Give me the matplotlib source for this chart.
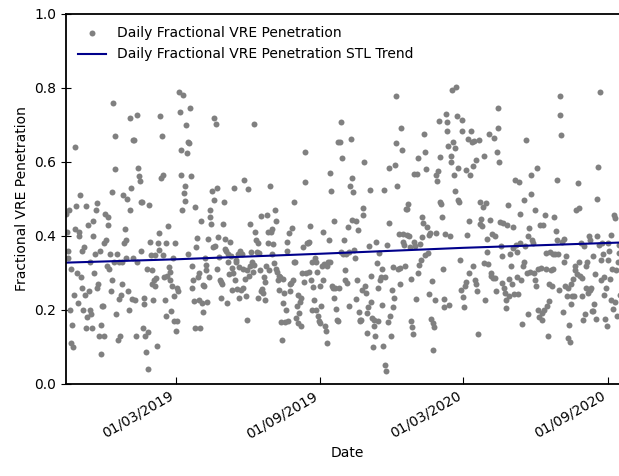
import matplotlib
matplotlib.use('Agg')
import matplotlib.pyplot as plt
import matplotlib.dates as mdates
import pandas as pd

# daily fractional VRE penetration, consecutive days starting 2018-10-12
start_date = '2018-10-12'
pen_2018_10 = [0.46, 0.41, 0.36, 0.34, 0.47, 0.20, 0.11, 0.31, 0.16, 0.10,
               0.24, 0.42, 0.64, 0.48, 0.30, 0.22, 0.41, 0.40, 0.51, 0.29,
               0.36, 0.26, 0.20, 0.37, 0.24, 0.15, 0.48, 0.18, 0.43, 0.25,
               0.20, 0.33, 0.19, 0.15, 0.40, 0.44, 0.30, 0.35, 0.47, 0.26,
               0.49, 0.27, 0.13, 0.36, 0.08, 0.16, 0.21, 0.21, 0.38, 0.13,
               0.46, 0.39, 0.32, 0.45, 0.43, 0.31, 0.35, 0.25, 0.52, 0.28,
               0.76, 0.33, 0.67, 0.58, 0.19, 0.35, 0.12, 0.33, 0.23, 0.13,
               0.24, 0.27, 0.33, 0.51, 0.38, 0.42, 0.39, 0.34, 0.50, 0.25,
               0.20, 0.47, 0.72, 0.53, 0.23, 0.34, 0.66]
pen_2019_01 = [0.66, 0.226, 0.129, 0.33, 0.728, 0.584, 0.561, 0.548, 0.36, 0.492,
               0.491, 0.15, 0.215, 0.232, 0.13, 0.086, 0.31, 0.14, 0.041, 0.485,
               0.384, 0.348, 0.27, 0.307, 0.226, 0.28, 0.264, 0.348, 0.287, 0.102,
               0.38, 0.361, 0.408, 0.725, 0.556, 0.669, 0.564, 0.348, 0.29, 0.228,
               0.183, 0.381, 0.291, 0.426, 0.315, 0.302, 0.282, 0.197, 0.264, 0.34,
               0.171, 0.239, 0.381, 0.142, 0.26, 0.17, 0.25, 0.788, 0.734, 0.564,
               0.633, 0.47, 0.782, 0.516, 0.495, 0.536, 0.70, 0.624, 0.35, 0.655,
               0.65, 0.745, 0.561, 0.26, 0.32, 0.282, 0.224, 0.152, 0.478, 0.37,
               0.395, 0.29, 0.228, 0.30, 0.15, 0.44, 0.22]
pen_2019_04 = [0.194, 0.268, 0.264, 0.34, 0.322, 0.309, 0.222, 0.392, 0.29, 0.451,
               0.47, 0.433, 0.522, 0.37, 0.498, 0.718, 0.374, 0.703, 0.531, 0.31,
               0.397, 0.342, 0.282, 0.277, 0.232, 0.27, 0.433, 0.491, 0.366, 0.392,
               0.36, 0.219, 0.33, 0.35, 0.296, 0.383, 0.345, 0.313, 0.255, 0.30,
               0.531, 0.282, 0.331, 0.336, 0.257, 0.35, 0.315, 0.232, 0.36, 0.255,
               0.351, 0.311, 0.26, 0.552, 0.284, 0.239, 0.172, 0.307, 0.527, 0.291,
               0.433, 0.32, 0.356, 0.329, 0.302, 0.322, 0.703, 0.412, 0.39, 0.358,
               0.38, 0.232, 0.354, 0.307, 0.25, 0.455, 0.257, 0.246, 0.29, 0.277,
               0.228, 0.318, 0.458, 0.381, 0.412, 0.307, 0.536]
pen_2019_06 = [0.412, 0.42, 0.35, 0.378, 0.327, 0.469, 0.44, 0.31, 0.302, 0.282,
               0.291, 0.253, 0.29, 0.168, 0.12, 0.284, 0.22, 0.246, 0.167, 0.201,
               0.36, 0.385, 0.17, 0.408, 0.25, 0.27, 0.273, 0.421, 0.282, 0.491,
               0.33, 0.329, 0.178, 0.21, 0.165, 0.24, 0.192, 0.221, 0.156, 0.232,
               0.30, 0.37, 0.277, 0.626, 0.547, 0.3, 0.38, 0.381, 0.304, 0.384,
               0.426, 0.28, 0.331, 0.201, 0.262, 0.228, 0.34, 0.331, 0.201, 0.304,
               0.183, 0.17, 0.264, 0.165, 0.21, 0.318, 0.282, 0.41, 0.324, 0.156,
               0.142, 0.111, 0.32, 0.329, 0.39, 0.331, 0.57, 0.522, 0.264, 0.26,
               0.44, 0.232, 0.26, 0.203, 0.174, 0.653]
pen_2019_09 = [0.17, 0.26, 0.653, 0.358, 0.708, 0.61, 0.352, 0.39, 0.282, 0.307,
               0.351, 0.273, 0.424, 0.357, 0.212, 0.534, 0.662, 0.444, 0.558, 0.519,
               0.363, 0.34, 0.23, 0.44, 0.282, 0.417, 0.194, 0.17, 0.174, 0.172,
               0.255, 0.457, 0.475, 0.6, 0.264, 0.246, 0.138, 0.192, 0.208, 0.372,
               0.525, 0.293, 0.221, 0.178, 0.1, 0.174, 0.156, 0.131, 0.385, 0.327,
               0.17, 0.26, 0.354, 0.282, 0.289, 0.311, 0.214, 0.102, 0.525, 0.289,
               0.052, 0.036, 0.375, 0.167, 0.585, 0.435, 0.185, 0.129, 0.255, 0.208,
               0.316, 0.232, 0.591, 0.779, 0.651, 0.534, 0.311, 0.406, 0.271, 0.313,
               0.693, 0.633, 0.384, 0.406, 0.377, 0.318, 0.473]
pen_2019_12 = [0.473, 0.403, 0.487, 0.4, 0.37, 0.284, 0.17, 0.153, 0.136, 0.567,
               0.383, 0.372, 0.231, 0.567, 0.3, 0.61, 0.322, 0.378, 0.336, 0.396,
               0.45, 0.435, 0.675, 0.348, 0.628, 0.581, 0.424, 0.354, 0.402, 0.242,
               0.408, 0.176, 0.279, 0.165, 0.093, 0.154, 0.226, 0.408, 0.565, 0.549,
               0.577, 0.711, 0.613, 0.493, 0.486, 0.451, 0.311, 0.231, 0.208, 0.406,
               0.729, 0.684, 0.708, 0.644, 0.214, 0.399, 0.6, 0.615, 0.795, 0.653,
               0.565, 0.522, 0.637, 0.802, 0.725, 0.498, 0.585, 0.492, 0.336, 0.255,
               0.714, 0.684, 0.235, 0.208, 0.266, 0.277, 0.579, 0.402, 0.662, 0.3,
               0.44, 0.565, 0.684, 0.653, 0.59, 0.32]
pen_2020_03 = [0.658, 0.282, 0.271, 0.606, 0.25, 0.135, 0.66, 0.491, 0.433, 0.446,
               0.426, 0.478, 0.327, 0.617, 0.228, 0.489, 0.356, 0.392, 0.324, 0.676,
               0.444, 0.291, 0.3, 0.405, 0.287, 0.664, 0.4, 0.287, 0.25, 0.626,
               0.746, 0.693, 0.6, 0.437, 0.372, 0.273, 0.345, 0.435, 0.26, 0.246,
               0.226, 0.205, 0.429, 0.485, 0.237, 0.284, 0.35, 0.32, 0.271, 0.424,
               0.368, 0.242, 0.55, 0.377, 0.356, 0.289, 0.242, 0.547, 0.46, 0.381,
               0.282, 0.162, 0.318, 0.33, 0.498, 0.372, 0.66, 0.3, 0.399, 0.19,
               0.421, 0.302, 0.564, 0.513, 0.39, 0.381, 0.3, 0.282, 0.471, 0.264,
               0.583, 0.2, 0.31, 0.18, 0.43, 0.313]
pen_2020_06 = [0.192, 0.172, 0.429, 0.201, 0.457, 0.311, 0.354, 0.21, 0.131, 0.224,
               0.271, 0.358, 0.309, 0.266, 0.352, 0.311, 0.451, 0.35, 0.414, 0.552,
               0.39, 0.352, 0.255, 0.728, 0.779, 0.672, 0.384, 0.194, 0.392, 0.331,
               0.264, 0.347, 0.239, 0.26, 0.125, 0.16, 0.113, 0.217, 0.271, 0.239,
               0.284, 0.239, 0.309, 0.32, 0.469, 0.296, 0.543, 0.475, 0.33, 0.291,
               0.381, 0.237, 0.287, 0.174, 0.372, 0.188, 0.26, 0.32, 0.33, 0.246,
               0.399, 0.255, 0.39, 0.26, 0.197, 0.347, 0.197, 0.215, 0.298, 0.176,
               0.399, 0.501, 0.586, 0.377, 0.788, 0.282, 0.336, 0.38, 0.35, 0.288,
               0.24, 0.176, 0.26, 0.158, 0.381, 0.336, 0.36, 0.284, 0.226, 0.404,
               0.311, 0.203, 0.457, 0.448, 0.222, 0.307, 0.185, 0.33, 0.354, 0.377,
               0.24]

# STL trend component
trend_dates = ['2018-10-12', '2019-03-01', '2019-09-01', '2020-03-01', '2020-09-27']
trend_vals = [0.328, 0.337, 0.352, 0.368, 0.383]

values = (pen_2018_10 + pen_2019_01 + pen_2019_04 + pen_2019_06 +
          pen_2019_09 + pen_2019_12 + pen_2020_03 + pen_2020_06)
dates = pd.date_range(start_date, periods=len(values), freq='D')

fig = plt.figure(figsize=(6.19, 4.76), dpi=100)
ax = fig.add_axes([0.1066, 0.1933, 0.9079, 0.7773])

ax.plot(dates, values, 'o', color='grey', markersize=4.3, markeredgewidth=0,
        label='Daily Fractional VRE Penetration')
ax.plot(pd.to_datetime(trend_dates), trend_vals, color='darkblue', linewidth=1.5,
        label='Daily Fractional VRE Penetration STL Trend')

ax.set_xlim(pd.Timestamp('2018-10-12'), pd.Timestamp('2020-09-27'))
ax.set_ylim(0, 1.0)
ax.xaxis.set_major_locator(mdates.MonthLocator(bymonth=[3, 9]))
ax.xaxis.set_major_formatter(mdates.DateFormatter('%d/%m/%Y'))
for lbl in ax.get_xticklabels():
    lbl.set_rotation(30)
    lbl.set_ha('right')
ax.tick_params(axis='x', direction='in', length=5)
ax.tick_params(axis='y', direction='inout', length=7)
for sp in ax.spines.values():
    sp.set_linewidth(1.3)

ax.set_xlabel('Date')
ax.set_ylabel('Fractional VRE Penetration')
ax.legend(loc='upper left', frameon=False)

fig.savefig('out.png', dpi=100)
